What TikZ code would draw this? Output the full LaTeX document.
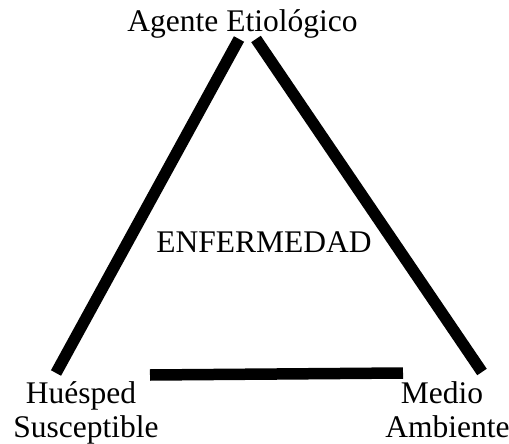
\documentclass[tikz,border=0pt]{standalone}
\usepackage{fontspec}
\setmainfont{Liberation Serif}
\begin{document}
\begin{tikzpicture}[x=1pt,y=-1pt,
  lbl/.style={font=\fontsize{31.5}{35}\selectfont, inner sep=0pt, anchor=base},
  bar/.style={line width=11.5pt, line cap=butt, black}]
\useasboundingbox (0,0) rectangle (509,444);
\node[lbl] (agent) at (242.5,32) {Agente Etiológico};
\node[lbl] (center) at (264,252) {ENFERMEDAD};
\node[lbl] (host1) at (81,403) {Huésped};
\node[lbl] (host2) at (86,437) {Susceptible};
\node[lbl] (env1) at (442,403) {Medio};
\node[lbl] (env2) at (447.5,437) {Ambiente};
\coordinate (lt) at (239,39);
\coordinate (lb) at (56,373);
\coordinate (rt) at (256,39);
\coordinate (rb) at (482,372);
\coordinate (bl) at (150,375);
\coordinate (br) at (403,373);
\draw[bar] (lt) -- (lb);
\draw[bar] (rt) -- (rb);
\draw[bar] (bl) -- (br);
\end{tikzpicture}
\end{document}
